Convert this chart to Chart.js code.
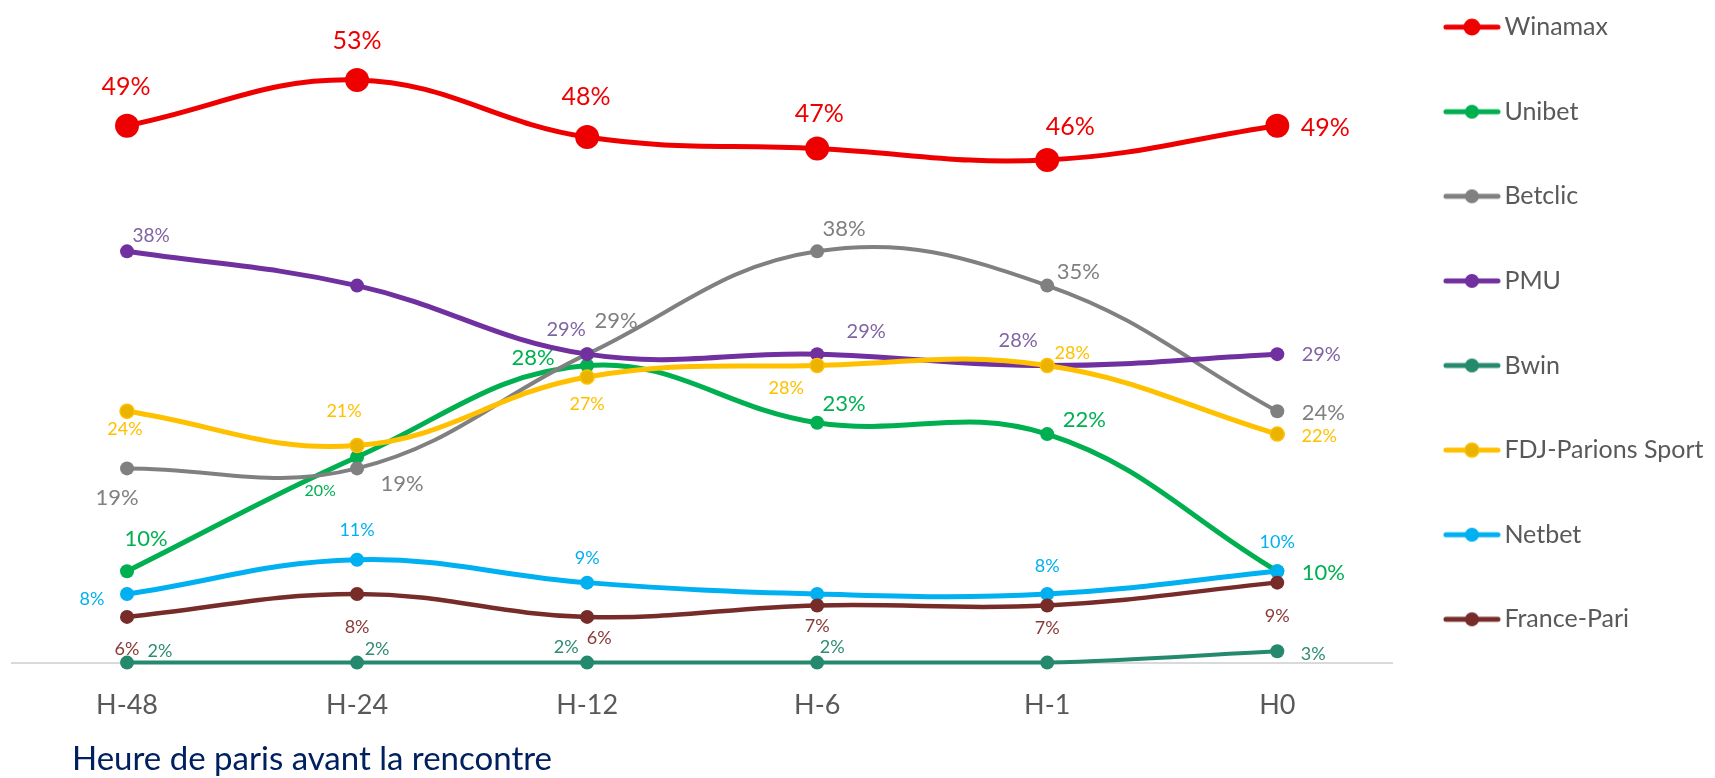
<!DOCTYPE html>
<html lang="fr">
<head>
<meta charset="utf-8">
<title>Part des paris par opérateur</title>
<script src="https://cdn.jsdelivr.net/npm/chart.js@4.4.1/dist/chart.umd.min.js"></script>
<style>
  html, body { margin: 0; padding: 0; background: #fff; }
  canvas { display: block; }
</style>
</head>
<body>
<canvas id="graphique" width="1715" height="778"></canvas>
<script>
const heures = ['H-48', 'H-24', 'H-12', 'H-6', 'H-1', 'H0'];
const operateurs = ['Winamax', 'Unibet', 'Betclic', 'PMU', 'Bwin', 'FDJ-Parions Sport', 'Netbet', 'France-Pari'];

// parts en %
const winamax = [49, 53, 48, 47, 46, 49];
const unibet = [10, 20, 28, 23, 22, 10];
const betclic = [19, 19, 29, 38, 35, 24];
const pmu = [38, 35, 29, 29, 28, 29];
const bwin = [2, 2, 2, 2, 2, 3];
const fdj = [24, 21, 27, 28, 28, 22];
const netbet = [8, 11, 9, 8, 8, 10];
const francePari = [6, 8, 6, 7, 7, 9];

const series = [winamax, unibet, betclic, pmu, bwin, fdj, netbet, francePari];

// couleurs : trait, fond du point, texte des étiquettes
const couleurs = ['#ee0000', '#00b050', '#808080', '#7030a0', '#25896e', '#ffc000', '#00b0f0', '#772c2a'];
const fondsPoints = ['#ee0000', '#00b050', '#808080', '#7030a0', '#25896e', '#eab300', '#00b0f0', '#772c2a'];
const couleursTexte = ['#ee0000', '#00b050', '#808080', '#8064a2', '#2e8b74', '#ffc000', '#00b0f0', '#8b3a38'];
const epaisseurs = [5, 5, 4, 5, 4, 5, 5, 4.5];
const rayons = [12, 7, 7, 7, 7, 7, 7, 7];

// décalage de chaque étiquette par rapport au point (null = pas d'étiquette)
const decalages = [
  [[-1, -40], [0, -40], [-1, -41], [2, -36], [23, -34], [48, 1]],
  [[19, -33], [-37, 33], [-54, -8], [27, -20], [37, -15], [46, 1]],
  [[-10, 29], [45, 15], [29, -34], [27, -23], [31, -15], [46, 1]],
  [[24, -16], null, [-21, -25], [49, -23], [-29, -26], [44, 0]],
  [[33, -12], [20, -14], [-21, -16], [15, -16], null, [36, 2]],
  [[-2, 17], [-13, -35], [0, 27], [-31, 22], [25, -13], [42, 1]],
  [[-35, 4], [0, -30], [0, -25], null, [0, -29], [0, -30]],
  [[0, 32], [0, 32], [12, 21], [0, 20], [0, 22], [0, 33]]
];
const taillesEtiquettes = [25, [22, 16, 22, 22, 22, 22], 22, [19, 20, 20, 20, 20, 20], 18, 18, 18, 18];

function marqueur(i) {
  const c = document.createElement('canvas');
  c.width = 58;
  c.height = 22;
  const g = c.getContext('2d');
  g.strokeStyle = couleurs[i];
  g.lineWidth = 5;
  g.lineCap = 'round';
  g.beginPath();
  g.moveTo(3, 11);
  g.lineTo(55, 11);
  g.stroke();
  g.beginPath();
  g.arc(29, 11, i === 0 ? 8.5 : 7, 0, Math.PI * 2);
  g.fillStyle = fondsPoints[i];
  g.fill();
  if (i === 5) {
    g.lineWidth = 1.5;
    g.strokeStyle = couleurs[i];
    g.stroke();
  }
  return c;
}
const marqueurs = operateurs.map((nom, i) => marqueur(i));

const pluginEtiquettes = {
  id: 'etiquettes',
  afterDatasetsDraw(chart) {
    const ctx = chart.ctx;
    chart.data.datasets.forEach((ds, i) => {
      const meta = chart.getDatasetMeta(i);
      meta.data.forEach((pt, j) => {
        const dec = decalages[i][j];
        if (!dec) return;
        const t = Array.isArray(taillesEtiquettes[i]) ? taillesEtiquettes[i][j] : taillesEtiquettes[i];
        ctx.save();
        ctx.font = t + 'px Lato';
        ctx.fillStyle = couleursTexte[i];
        ctx.textAlign = 'center';
        ctx.textBaseline = 'alphabetic';
        ctx.fillText(ds.data[j] + '%', pt.x + dec[0], pt.y + dec[1] + t * 0.36);
        ctx.restore();
      });
    });
  }
};

const pluginTitreAxe = {
  id: 'titreAxe',
  afterDraw(chart) {
    const ctx = chart.ctx;
    ctx.save();
    ctx.font = '33px Lato';
    ctx.fillStyle = '#002060';
    ctx.textAlign = 'left';
    ctx.textBaseline = 'alphabetic';
    ctx.fillText('Heure de paris avant la rencontre', chart.chartArea.left + 60, 770);
    ctx.restore();
  }
};

const jeux = series.map((valeurs, i) => ({
  label: operateurs[i],
  data: valeurs,
  borderColor: couleurs[i],
  backgroundColor: fondsPoints[i],
  borderWidth: epaisseurs[i],
  pointRadius: rayons[i],
  pointBackgroundColor: fondsPoints[i],
  pointBorderColor: couleurs[i],
  pointBorderWidth: i === 5 ? 1.5 : 0,
  tension: 0.4,
  fill: false,
  clip: false,
  order: -i
}));

new Chart(document.getElementById('graphique'), {
  type: 'line',
  data: { labels: heures, datasets: jeux },
  plugins: [pluginEtiquettes, pluginTitreAxe],
  options: {
    responsive: false,
    animation: false,
    layout: {
      autoPadding: false,
      padding: { top: -45, left: 12, right: 1.5, bottom: 31 }
    },
    plugins: {
      tooltip: { enabled: false },
      legend: {
        position: 'right',
        align: 'start',
        labels: {
          usePointStyle: true,
          pointStyleWidth: 40,
          padding: 59.6,
          color: '#595959',
          font: { family: 'Lato', size: 25 },
          sort: (a, b) => a.datasetIndex - b.datasetIndex,
          generateLabels(chart) {
            const items = Chart.defaults.plugins.legend.labels.generateLabels(chart);
            items.forEach(it => { it.pointStyle = marqueurs[it.datasetIndex]; });
            return items;
          }
        }
      }
    },
    scales: {
      x: {
        offset: true,
        grid: { display: false, drawTicks: false },
        border: { display: true, color: '#d9d9d9', width: 2 },
        ticks: { color: '#595959', padding: 26, font: { family: 'Lato', size: 27 } }
      },
      y: {
        display: false,
        min: 2,
        max: 60
      }
    }
  }
});
</script>
</body>
</html>
